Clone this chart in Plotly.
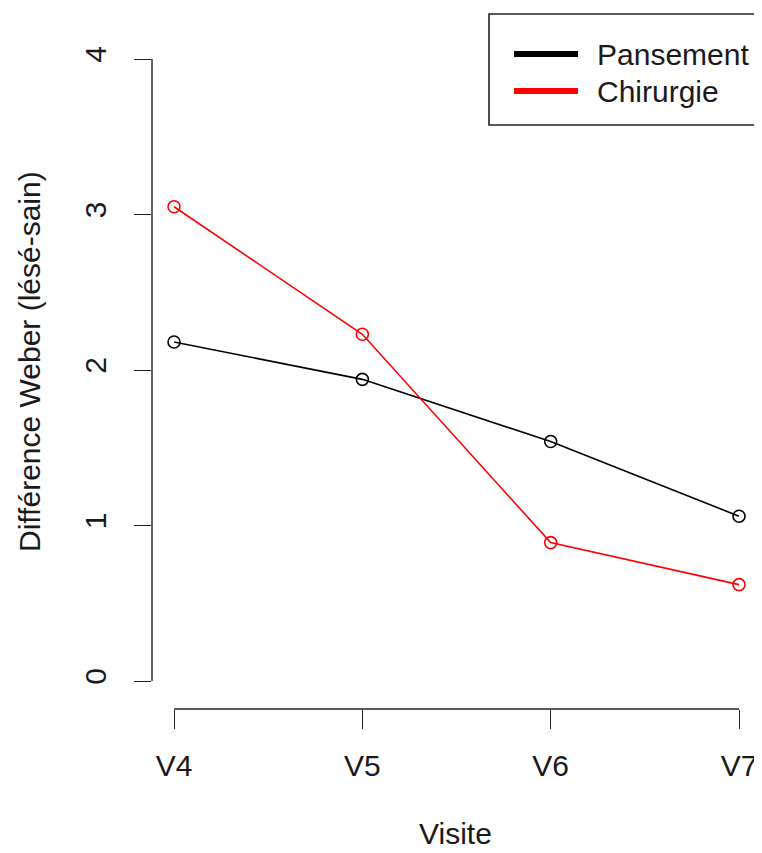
import plotly.graph_objects as go

visites = ["V4", "V5", "V6", "V7"]
x_pos = [1, 2, 3, 4]
pansement = [2.18, 1.94, 1.54, 1.06]
chirurgie = [3.05, 2.23, 0.89, 0.62]
y_ticks = [0, 1, 2, 3, 4]
series_names = ["Pansement", "Chirurgie"]
series_colors = ["black", "#ff0000"]

# page body adds an 8px offset; size figure so it ends at the window edge
OFF = 8
W, H = 762 - OFF, 853 - OFF
L, R, T, B = 152 - OFF, 0, 34 - OFF, 853 - 709
pw, ph = W - L - R, H - T - B

def px(x):
    return (x - OFF - L) / pw

def py(y):
    return (H - B - (y - OFF)) / ph

fig = go.Figure()
for name, vals, col in zip(series_names, [pansement, chirurgie], series_colors):
    fig.add_trace(go.Scatter(
        x=x_pos, y=vals, mode="lines+markers", name=name,
        line=dict(color=col, width=1.6),
        marker=dict(symbol="circle-open", size=12, color=col, line=dict(width=1.6, color=col)),
        showlegend=False,
    ))

font = dict(family="Liberation Sans, Arial, sans-serif", size=30, color="#1a1a1a")
axcol = "#222222"

fig.update_layout(
    width=W, height=H,
    margin=dict(l=L, r=R, t=T, b=B, pad=0),
    paper_bgcolor="white", plot_bgcolor="white",
    font=font,
    xaxis=dict(range=[0.883, 4.122], tickvals=x_pos, ticktext=visites,
               showgrid=False, zeroline=False, showline=False,
               ticks="outside", ticklen=19, tickwidth=1.4, tickcolor=axcol,
               tickfont=font, ticklabelstandoff=11),
    yaxis=dict(range=[-0.18, 4.161], tickvals=y_ticks,
               showgrid=False, zeroline=False, showline=False,
               ticks="outside", ticklen=17, tickwidth=1.4, tickcolor=axcol,
               tickangle=-90, tickfont=font, ticklabelstandoff=16),
)

# R-style detached axis lines spanning first to last tick
fig.add_shape(type="line", xref="x", yref="paper", x0=x_pos[0], x1=x_pos[-1], y0=0, y1=0,
              line=dict(color=axcol, width=1.4))
fig.add_shape(type="line", xref="paper", yref="y", x0=0, x1=0, y0=y_ticks[0], y1=y_ticks[-1],
              line=dict(color=axcol, width=1.4))

# axis titles
fig.add_annotation(text="Visite", xref="paper", yref="paper", x=px(455), y=py(833),
                   showarrow=False, font=font, xanchor="center", yanchor="middle")
fig.add_annotation(text="Différence Weber (lésé-sain)", xref="paper", yref="paper",
                   x=px(30), y=py(362), textangle=-90, showarrow=False, font=font,
                   xanchor="center", yanchor="middle")

# legend box drawn manually (R style)
fig.add_shape(type="rect", xref="paper", yref="paper", x0=px(489), x1=px(757), y0=py(125), y1=py(14),
              line=dict(color=axcol, width=1.6), fillcolor="white")
for i, (name, col) in enumerate(zip(series_names, series_colors)):
    yy = py(54 + 37 * i)
    fig.add_shape(type="line", xref="paper", yref="paper", x0=px(514), x1=px(578), y0=yy, y1=yy,
                  line=dict(color=col, width=6))
    fig.add_annotation(text=name, xref="paper", yref="paper", x=px(595), y=yy, showarrow=False,
                       font=font, xanchor="left", yanchor="middle")

fig.write_html("out.html")
